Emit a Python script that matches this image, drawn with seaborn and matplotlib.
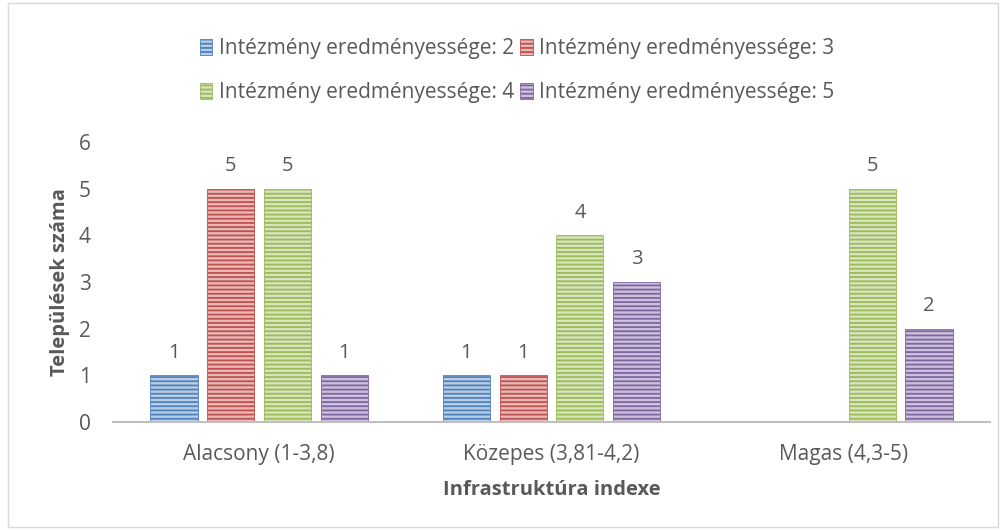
import numpy as np
import pandas as pd
import matplotlib
matplotlib.use('Agg')
import matplotlib.pyplot as plt
from matplotlib.patches import Patch, Rectangle
from matplotlib.colors import to_rgb
import seaborn as sns

# data
categories = ['Alacsony (1-3,8)', 'Közepes (3,81-4,2)', 'Magas (4,3-5)']
series = ['Intézmény eredményessége: 2', 'Intézmény eredményessége: 3',
          'Intézmény eredményessége: 4', 'Intézmény eredményessége: 5']
values_2 = [1, 1, np.nan]
values_3 = [5, 1, np.nan]
values_4 = [5, 4, 5]
values_5 = [1, 3, 2]
colors = ['#4F81BD', '#C0504D', '#9BBB59', '#8064A2']

df = pd.DataFrame({
    'kategoria': categories * 4,
    'sorozat': [s for s in series for _ in categories],
    'ertek': values_2 + values_3 + values_4 + values_5,
}).dropna()

sns.set_style('white')
plt.rcParams['font.family'] = ['Open Sans', 'DejaVu Sans']
plt.rcParams['hatch.linewidth'] = 1.3
txt = '#595959'
fs = 15

def lighten(c, amt):
    r, g, b = to_rgb(c)
    return (r + (1 - r) * amt, g + (1 - g) * amt, b + (1 - b) * amt)

fig = plt.figure(figsize=(10.06, 5.30), dpi=100)
ax = fig.add_axes([0.1123, 0.2038, 0.8718, 0.5283])

sns.barplot(data=df, x='kategoria', y='ertek', hue='sorozat', order=categories,
            hue_order=series, palette=colors, width=0.777, gap=0.17,
            errorbar=None, legend=False, ax=ax)

for cont, c in zip(ax.containers, colors):
    for p in cont.patches:
        p.set_facecolor(lighten(c, 0.6))
        p.set_edgecolor(c)
        p.set_hatch('----')
        p.set_linewidth(0.6)
    ax.bar_label(cont, fmt='%d', padding=9, fontsize=14.5, color=txt)

ax.set_ylim(0, 6)
ax.set_yticks(range(0, 7))
ax.tick_params(axis='both', length=0, labelsize=fs, labelcolor=txt)
ax.tick_params(axis='y', pad=16)
ax.tick_params(axis='x', pad=16)
for s in ['top', 'right', 'left']:
    ax.spines[s].set_visible(False)
ax.spines['bottom'].set_color('#BFBFBF')
ax.spines['bottom'].set_linewidth(1.5)

ax.set_xlabel('Infrastruktúra indexe', fontsize=14.5, fontweight='bold',
              color=txt, labelpad=11)
ax.set_ylabel('Települések száma', fontsize=14.5, fontweight='bold',
              color=txt, labelpad=6)

# legend filled row by row: 2, 3 / 4, 5
order = [0, 2, 1, 3]
handles = [Patch(facecolor=lighten(colors[i], 0.6), edgecolor=colors[i],
                 hatch='----', linewidth=0.6) for i in order]
labels = [series[i] for i in order]
fig.legend(handles, labels, loc='center', bbox_to_anchor=(0.514, 0.867), ncol=2,
           frameon=False, fontsize=fs, labelcolor=txt, handlelength=0.6,
           handleheight=0.8, handletextpad=0.3, columnspacing=0.3,
           labelspacing=1.1)

fig.patches.append(Rectangle((0.008, 0.006), 0.984, 0.988, transform=fig.transFigure,
                             fill=False, edgecolor='#D9D9D9', linewidth=1))

fig.savefig('out.png', dpi=100)
